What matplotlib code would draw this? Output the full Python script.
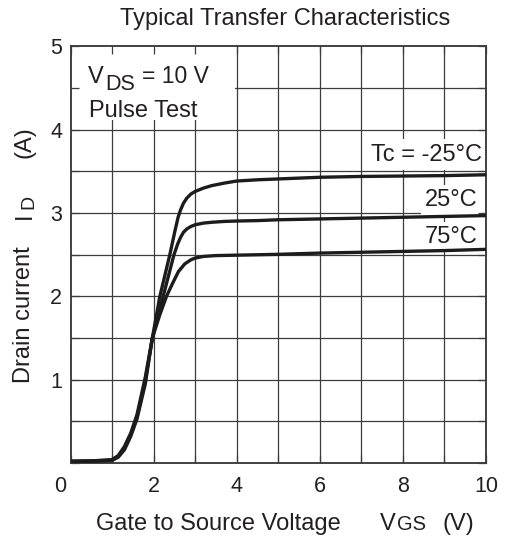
import matplotlib
matplotlib.use('Agg')
import matplotlib.pyplot as plt
from matplotlib.patches import Rectangle
from matplotlib.transforms import ScaledTranslation

plt.rcParams['font.family'] = ['Liberation Sans', 'DejaVu Sans']

# ---------------- data ----------------
vgs_m25 = [0, 0.5, 1.0, 1.15, 1.3, 1.45, 1.6, 1.8, 1.97, 2.15, 2.39, 2.52, 2.59, 2.65,
           2.72, 2.8, 2.9, 3.0, 3.2, 3.4, 3.7, 4.0, 4.5, 5.0, 6.0, 7.0, 8.0, 9.0, 10.0]
id_m25 = [0.02, 0.022, 0.03, 0.07, 0.16, 0.32, 0.53, 0.95, 1.5, 2.0, 2.5, 2.8, 2.95, 3.04,
          3.12, 3.18, 3.23, 3.26, 3.3, 3.33, 3.36, 3.385, 3.40, 3.41, 3.43, 3.44, 3.445, 3.45, 3.46]

vgs_25 = [0, 0.5, 1.0, 1.15, 1.3, 1.45, 1.6, 1.8, 1.97, 2.23, 2.49, 2.58, 2.65, 2.72,
          2.8, 2.9, 3.0, 3.2, 3.4, 3.7, 4.0, 4.5, 5.0, 6.0, 7.0, 8.0, 9.0, 10.0]
id_25 = [0.02, 0.023, 0.035, 0.08, 0.18, 0.34, 0.55, 0.99, 1.5, 2.0, 2.5, 2.63, 2.71, 2.77,
         2.81, 2.84, 2.86, 2.88, 2.89, 2.90, 2.905, 2.91, 2.92, 2.93, 2.94, 2.95, 2.96, 2.97]

vgs_75 = [0, 0.5, 1.0, 1.15, 1.3, 1.45, 1.6, 1.8, 1.97, 2.15, 2.31, 2.45, 2.6, 2.75,
          2.9, 3.0, 3.2, 3.5, 4.0, 4.5, 5.0, 6.0, 7.0, 8.0, 9.0, 10.0]
id_75 = [0.02, 0.025, 0.04, 0.09, 0.2, 0.36, 0.58, 1.03, 1.5, 1.78, 2.0, 2.15, 2.30, 2.39,
         2.44, 2.46, 2.48, 2.49, 2.495, 2.50, 2.505, 2.52, 2.53, 2.54, 2.55, 2.565]

series_labels = ['Tc = -25°C', '25°C', '75°C']
x_ticks = list(range(0, 11))
x_tick_labels = ['0', '', '2', '', '4', '', '6', '', '8', '', '10']
y_ticks = [0, 0.5, 1, 1.5, 2, 2.5, 3, 3.5, 4, 4.5, 5]
y_tick_labels = ['', '', '1', '', '2', '', '3', '', '4', '', '5']

# ---------------- figure ----------------
W, H = 509, 538
fig = plt.figure(figsize=(W / 100, H / 100), dpi=100)
ax = fig.add_axes([70.5 / W, 75 / H, 415.5 / W, 416.5 / H])
ax.set_xlim(0, 10)
ax.set_ylim(0, 5)

txt = '#231f20'
gc = '#3c3c3c'


def fx(px):
    return px / W


def fy(py):
    return 1 - py / H


for x in x_ticks[1:-1]:
    ax.axvline(x, color=gc, lw=0.9, zorder=1)
for y in y_ticks[1:-1]:
    ax.axhline(y, color=gc, lw=0.9, zorder=1)

lc = '#1c1c1c'
for v, i in [(vgs_m25, id_m25), (vgs_25, id_25), (vgs_75, id_75)]:
    ax.plot(v, i, color=lc, lw=2.4, zorder=3, solid_joinstyle='round',
            solid_capstyle='butt')

ax.set_axisbelow(False)
ax.set_xticks(x_ticks)
ax.set_xticklabels(x_tick_labels)
ax.set_yticks(y_ticks)
ax.set_yticklabels(y_tick_labels)
ax.tick_params(direction='in', length=5.8, width=0.9, top=True, right=True,
               labelsize=15.5, colors=gc, labelcolor=txt)
ax.tick_params(axis='x', pad=9)
ax.tick_params(axis='y', pad=6)
for s in ax.spines.values():
    s.set_linewidth(1.3)
    s.set_color('#333333')

# shift the '0' label to the left corner
lab0 = ax.get_xticklabels()[0]
lab0.set_transform(lab0.get_transform() + ScaledTranslation(-10.5 / 100, 0, fig.dpi_scale_trans))

# condition box
ax.add_patch(Rectangle((0, 4.12), 3.97, 0.88, facecolor='white', edgecolor='none', zorder=2.1))
fig.text(fx(88), fy(83.3), 'V', fontsize=17, color=txt, ha='left', va='baseline', zorder=2.2)
fig.text(fx(105.5), fy(90), 'DS', fontsize=15.5, color=txt, ha='left', va='baseline', zorder=2.2)
fig.text(fx(142.5), fy(83.3), '= 10 V', fontsize=16.5, color=txt, ha='left', va='baseline',
         zorder=2.2)
fig.text(fx(89), fy(116.7), 'Pulse Test', fontsize=17, color=txt, ha='left', va='baseline',
         zorder=2.2)

# curve labels
bb = dict(facecolor='white', edgecolor='none', pad=3)
ax.text(9.9, 3.63, series_labels[0], fontsize=17, color=txt, ha='right', va='baseline',
        bbox=bb, zorder=2.2)
ax.text(9.8, 3.085, series_labels[1], fontsize=17, color=txt, ha='right', va='baseline',
        bbox=bb, zorder=2.2)
ax.text(9.8, 2.64, series_labels[2], fontsize=17, color=txt, ha='right', va='baseline',
        bbox=bb, zorder=2.2)

# title
fig.text(fx(285), fy(25), 'Typical Transfer Characteristics', fontsize=17, color=txt,
         ha='center', va='baseline')

# x axis label
fig.text(fx(96), fy(530), 'Gate to Source Voltage', fontsize=17, color=txt,
         ha='left', va='baseline')
fig.text(fx(379.5), fy(530), 'V', fontsize=17, color=txt, ha='left', va='baseline')
fig.text(fx(396.5), fy(530), 'GS', fontsize=14.5, color=txt, ha='left', va='baseline')
fig.text(fx(442), fy(530), '(V)', fontsize=17, color=txt, ha='left', va='baseline')

# y axis label
fig.text(fx(30.5), fy(315), 'Drain current', fontsize=17, color=txt, rotation=90,
         rotation_mode='anchor', ha='center', va='baseline')
fig.text(fx(30.5), fy(216), 'I', fontsize=17, color=txt, rotation=90,
         rotation_mode='anchor', ha='center', va='baseline')
fig.text(fx(33.5), fy(201.5), 'D', fontsize=14, color=txt, rotation=90,
         rotation_mode='anchor', ha='center', va='baseline')
fig.text(fx(30.5), fy(142.5), '(A)', fontsize=17, color=txt, rotation=90,
         rotation_mode='anchor', ha='center', va='baseline')

fig.savefig('out.png', dpi=100, facecolor='white')
